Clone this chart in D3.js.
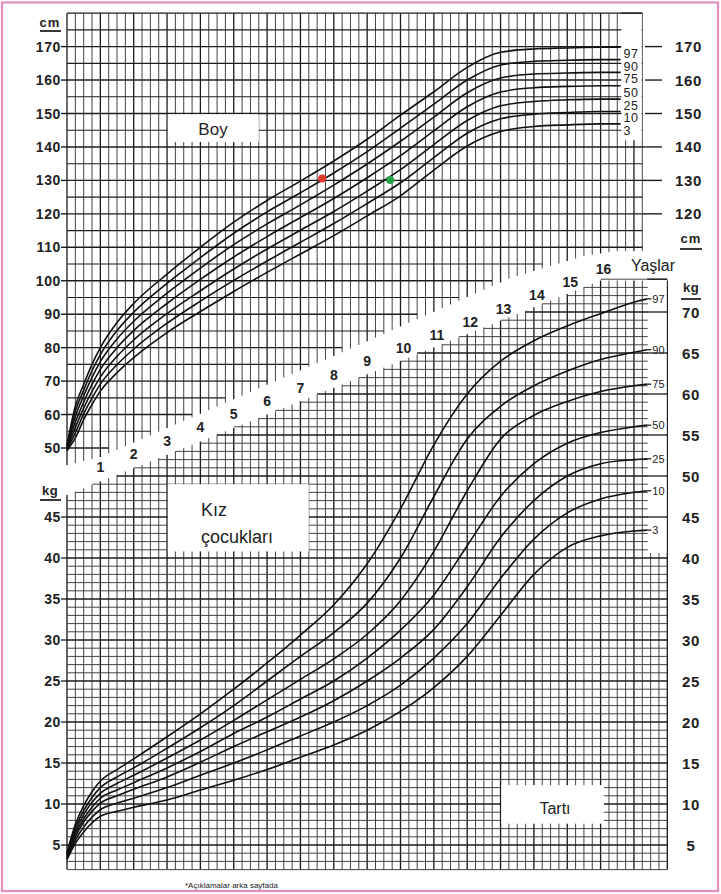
<!DOCTYPE html>
<html><head><meta charset="utf-8">
<script src="https://cdn.jsdelivr.net/npm/d3@7"></script>
<style>
html,body{margin:0;padding:0;background:#fff;}
svg{display:block;}
text{font-family:"Liberation Sans",Arial,sans-serif;fill:#222;}
</style></head><body>
<svg id="c" width="721" height="894"></svg>
<script>
// ---------------- DATA ----------------
const percentiles = ["3","10","25","50","75","90","97"];

// Height (Boy), cm
const heightAges = [0,0.25,0.5,0.75,1,1.5,2,3,4,5,6,7,8,9,10,11,12,13,14,15,16,16.6];
const heightP3  = [49.2,53,58.5,63,67,72.5,77,84.5,90.8,96.8,102.5,108,113.5,119.4,125.4,133.1,140.3,144.6,146.1,146.6,146.9,146.9];
const heightP10 = [49.5,54.5,60.2,64.9,69.1,74.9,79.6,87.3,93.9,100.1,105.9,111.5,117.1,123.1,129.3,136.8,144.1,148.4,149.8,150.3,150.6,150.6];
const heightP25 = [49.8,56.1,61.9,66.9,71.2,77.4,82.3,90.2,97.0,103.5,109.5,115.1,120.7,126.8,133.2,140.7,147.9,152.3,153.6,154.1,154.3,154.3];
const heightP50 = [50.1,57.7,63.7,69.0,73.5,80.0,85.1,93.2,100.4,107.1,113.2,118.9,124.6,130.8,137.4,144.8,152.0,156.4,157.7,158.1,158.3,158.3];
const heightP75 = [50.4,59.4,65.6,71.1,75.8,82.6,87.9,96.3,103.8,110.8,117.0,122.7,128.6,134.9,141.7,148.9,156.2,160.6,161.8,162.1,162.3,162.3];
const heightP90 = [50.7,61.0,67.3,73.1,77.9,85.1,90.6,99.2,106.9,114.2,120.6,126.3,132.2,138.6,145.6,152.8,160.0,164.5,165.6,165.9,166.1,166.1];
const heightP97 = [51.0,62.5,69,75,80,87.5,93.2,102,110,117.5,124,129.8,135.8,142.3,149.5,156.5,163.8,168.3,169.3,169.6,169.8,169.8];

// Weight (Tartı), kg
const weightAges = [0,0.25,0.5,0.75,1,1.5,2,3,4,5,6,7,8,9,10,11,12,13,14,15,16,17,17.4];
const weightP3  = [3.2,5.2,6.6,7.7,8.5,9.1,9.6,10.5,11.7,12.9,14.2,15.7,17.2,19.0,21.3,24.2,28.0,33.0,38.0,41.3,42.7,43.3,43.4];
const weightP10 = [3.35,5.6,7.2,8.4,9.3,10.1,10.7,12.0,13.5,15.0,16.6,18.3,20.0,22.0,24.5,27.8,32.0,37.5,42.3,45.5,47.2,48.0,48.2];
const weightP25 = [3.5,6.0,7.8,9.1,10.1,11.0,11.8,13.3,15.1,17.0,18.8,20.6,22.6,25.0,27.8,31.3,36.5,42.5,47.0,50.0,51.5,52.0,52.1];
const weightP50 = [3.65,6.4,8.2,9.6,10.7,11.7,12.6,14.4,16.4,18.6,20.6,22.8,25.0,27.8,31.2,35.5,41.5,47.5,51.5,54.0,55.3,56.0,56.2];
const weightP75 = [3.8,6.7,8.7,10.2,11.3,12.5,13.5,15.6,17.8,20.2,22.7,25.2,27.7,30.7,34.8,40.8,48.2,54.5,57.4,59.1,60.3,61.0,61.2];
const weightP90 = [3.95,7.1,9.2,10.8,12.0,13.3,14.4,16.8,19.3,22.0,25.0,28.0,30.9,34.5,40.0,47.5,54.5,58.5,61.0,62.8,64.2,65.1,65.4];
const weightP97 = [4.1,7.5,9.8,11.5,12.8,14.2,15.5,18.2,21.0,24.0,27.2,30.6,34.3,39.3,46.0,53.8,60.0,64.0,66.5,68.3,69.8,71.2,71.6];

// Axis ticks / labels
const heightTicksLeft  = [50,60,70,80,90,100,110,120,130,140,150,160,170];
const heightTicksRight = [120,130,140,150,160,170];
const weightTicksLeft  = [5,10,15,20,25,30,35,40,45];
const weightTicksRight = [5,10,15,20,25,30,35,40,45,50,55,60,65,70];
const ageLabels = [1,2,3,4,5,6,7,8,9,10,11,12,13,14,15,16];

// Plotted children (height)
const childAges    = [7.65, 9.69];
const childHeights = [130.6, 130.1];
const childColors  = ["#e2372c", "#27a348"];

// ---------------- LAYOUT ----------------
const svg = d3.select("#c");
const x  = d3.scaleLinear().domain([0, 18]).range([67, 667.3]);
const yH = d3.scaleLinear().domain([50, 180]).range([448, 13.15]);
const yW = d3.scaleLinear().domain([5, 74]).range([845, 279.2]);
const bandY = d3.scaleLinear().domain([0, 16]).range([480.2, 269]); // centre line of age band

// torn edges of the two grids along the diagonal age band (pixel y by age)
const hEdge = d3.scaleLinear().domain([0, 1, 8.2, 13.3, 15.5, 16.5, 18]).range([465, 457, 353, 278, 256, 251, 251]).clamp(true);
const wEdge = d3.scaleLinear().domain([0, 16, 18]).range([495, 280.5, 280.5]).clamp(true);

const gridMinor = "#3a3a3a", gridMajor = "#1c1c1c";

// pink frame
svg.append("rect").attr("x",2).attr("y",2.5).attr("width",716).attr("height",888.5)
  .attr("fill","none").attr("stroke","#e58cc2").attr("stroke-width",2.2);

// ---------- HEIGHT GRID ----------
const gH = svg.append("g");
const hMaxQ = 69; // quarter-year columns (0 .. 17.25 y)
for (let q = 0; q <= hMaxQ; q++) {
  gH.append("line").attr("x1", x(q/4)).attr("x2", x(q/4))
    .attr("y1", yH(180)).attr("y2", hEdge(q/4))
    .attr("stroke", q % 4 === 0 ? gridMajor : gridMinor)
    .attr("stroke-width", q % 4 === 0 ? 1.3 : 0.95);
}
for (let v = 50; v <= 180; v += 5) {
  const yy = yH(v);
  let qmax = -1;
  for (let q = 0; q <= hMaxQ; q++) { if (hEdge(q/4) >= yy + 2) qmax = q; else break; }
  if (qmax < 1) continue;
  gH.append("line").attr("x1", x(0)).attr("x2", x(qmax/4)).attr("y1", yy).attr("y2", yy)
    .attr("stroke", gridMajor).attr("stroke-width", v % 10 === 0 ? 1.4 : 1.1);
}

// ---------- WEIGHT GRID ----------
const gW = svg.append("g");
const wMaxQ = 72; // 0 .. 18 y
for (let q = 0; q <= wMaxQ; q++) {
  gW.append("line").attr("x1", x(q/4)).attr("x2", x(q/4))
    .attr("y1", wEdge(q/4)).attr("y2", yW(2))
    .attr("stroke", q % 4 === 0 ? gridMajor : gridMinor)
    .attr("stroke-width", q % 4 === 0 ? 1.35 : 0.95);
}
for (let v = 2; v <= 74; v++) {
  const yy = yW(v);
  let qmin = -1;
  for (let q = 0; q <= wMaxQ; q++) { if (wEdge(q/4) <= yy + 1.5) { qmin = q; break; } }
  if (qmin < 0 || qmin >= wMaxQ) continue;
  gW.append("line").attr("x1", x(qmin/4)).attr("x2", x(18)).attr("y1", yy).attr("y2", yy)
    .attr("stroke", v % 5 === 0 ? gridMajor : gridMinor)
    .attr("stroke-width", v % 5 === 0 ? 1.3 : 0.95);
}

// ---------- WHITE BOXES / LABEL COLUMNS ----------
const white = (x0, y0, x1, y1) => svg.append("rect").attr("x", x0).attr("y", y0)
  .attr("width", x1 - x0).attr("height", y1 - y0).attr("fill", "#fff");
white(x(3) + 0.8, yH(150) + 0.8, x(5.75), yH(141.5));        // Boy
white(x(3) + 0.8, yW(49), x(7.25), yW(40.8));                // Kız çocukları
white(x(13) + 0.8, yW(12.3), x(16.1), yW(7.6));              // Tartı
white(x(16.6) + 0.8, yH(180) + 0.8, x(17.25) - 0.7, yH(142)); // height pct labels
white(x(17.4) + 0.5, yW(74) + 0.8, x(18) - 0.7, yW(40.6));     // weight pct labels

// restore borders over label columns
svg.append("line").attr("x1", x(16.6)).attr("x2", x(17.25)).attr("y1", yH(180)).attr("y2", yH(180))
  .attr("stroke", gridMajor).attr("stroke-width", 1.3);
weightTicksRight.filter(v => v >= 45).forEach(v => {
  svg.append("line").attr("x1", x(17.4)).attr("x2", x(18)).attr("y1", yW(v)).attr("y2", yW(v))
    .attr("stroke", gridMajor).attr("stroke-width", 1.3);
});
svg.append("line").attr("x1", x(17.4)).attr("x2", x(18)).attr("y1", yW(74)).attr("y2", yW(74))
  .attr("stroke", gridMajor).attr("stroke-width", 1.3);

// ---------- AXES ----------
const bold = "bold";
heightTicksLeft.forEach(v => {
  svg.append("line").attr("x1", 61).attr("x2", x(0)).attr("y1", yH(v)).attr("y2", yH(v))
    .attr("stroke", gridMajor).attr("stroke-width", 1.4);
  svg.append("text").attr("x", 61).attr("y", yH(v) + 5).attr("text-anchor", "end")
    .attr("font-size", 14).attr("font-weight", bold).attr("letter-spacing", 0.6).text(v);
});
svg.append("text").attr("x", 50).attr("y", 27).attr("text-anchor", "middle")
  .attr("font-size", 13).attr("font-weight", bold).attr("letter-spacing", 1).text("cm");
svg.append("line").attr("x1", 40).attr("x2", 61).attr("y1", 31).attr("y2", 31).attr("stroke", "#222").attr("stroke-width", 1.8);

heightTicksRight.forEach(v => {
  svg.append("line").attr("x1", v >= 150 ? 645 : x(17.25)).attr("x2", 662).attr("y1", yH(v)).attr("y2", yH(v))
    .attr("stroke", gridMajor).attr("stroke-width", 1.4);
  svg.append("text").attr("x", 675).attr("y", yH(v) + 5.5)
    .attr("font-size", 15).attr("font-weight", bold).attr("letter-spacing", 0.6).text(v);
});
svg.append("text").attr("x", 691).attr("y", 243).attr("text-anchor", "middle")
  .attr("font-size", 13).attr("font-weight", bold).attr("letter-spacing", 1).text("cm");
svg.append("line").attr("x1", 680).attr("x2", 702).attr("y1", 249).attr("y2", 249).attr("stroke", "#222").attr("stroke-width", 1.8);

weightTicksLeft.forEach(v => {
  svg.append("line").attr("x1", 61).attr("x2", x(0)).attr("y1", yW(v)).attr("y2", yW(v))
    .attr("stroke", gridMajor).attr("stroke-width", 1.3);
  svg.append("text").attr("x", 61).attr("y", yW(v) + 5).attr("text-anchor", "end")
    .attr("font-size", 14).attr("font-weight", bold).attr("letter-spacing", 0.6).text(v);
});
svg.append("text").attr("x", 50).attr("y", 495).attr("text-anchor", "middle")
  .attr("font-size", 13).attr("font-weight", bold).attr("letter-spacing", 0.5).text("kg");
svg.append("line").attr("x1", 40).attr("x2", 61).attr("y1", 500).attr("y2", 500).attr("stroke", "#222").attr("stroke-width", 1.8);

weightTicksRight.forEach(v => {
  svg.append("text").attr("x", 691).attr("y", yW(v) + 5.5).attr("text-anchor", "middle")
    .attr("font-size", 15).attr("font-weight", bold).attr("letter-spacing", 0.6).text(v);
});
svg.append("text").attr("x", 691).attr("y", 292).attr("text-anchor", "middle")
  .attr("font-size", 13).attr("font-weight", bold).attr("letter-spacing", 0.5).text("kg");
svg.append("line").attr("x1", 681).attr("x2", 701).attr("y1", 299).attr("y2", 299).attr("stroke", "#222").attr("stroke-width", 1.8);

ageLabels.forEach(a => {
  svg.append("text").attr("x", x(a) + (a >= 10 ? 3 : 0)).attr("y", bandY(a) + 5)
    .attr("text-anchor", "middle").attr("font-size", 14).attr("font-weight", bold).text(a);
});
svg.append("text").attr("x", 653).attr("y", 271).attr("text-anchor", "middle")
  .attr("font-size", 16).attr("fill", "#333").text("Yaşlar");

// ---------- CURVES ----------
const heightSeries = [heightP3, heightP10, heightP25, heightP50, heightP75, heightP90, heightP97];
const weightSeries = [weightP3, weightP10, weightP25, weightP50, weightP75, weightP90, weightP97];

const lineH = d3.line().x((d, i) => x(heightAges[i])).y(d => yH(d)).curve(d3.curveMonotoneX);
const lineW = d3.line().x((d, i) => x(weightAges[i])).y(d => yW(d)).curve(d3.curveMonotoneX);

heightSeries.forEach((s, i) => {
  svg.append("path").attr("d", lineH(s)).attr("fill", "none")
    .attr("stroke", "#111").attr("stroke-width", 1.6);
  svg.append("text").attr("x", x(16.6) + 3).attr("y", yH(s[s.length - 1]) + 11)
    .attr("font-size", 12.5).attr("letter-spacing", 0.5).text(percentiles[i]);
});
weightSeries.forEach((s, i) => {
  svg.append("path").attr("d", lineW(s)).attr("fill", "none")
    .attr("stroke", "#111").attr("stroke-width", 1.6);
  const ly = yW(s[s.length - 1]);
  svg.append("line").attr("x1", x(17.4)).attr("x2", x(17.4) + 4).attr("y1", ly).attr("y2", ly)
    .attr("stroke", "#111").attr("stroke-width", 1.2);
  svg.append("text").attr("x", x(17.4) + 5).attr("y", ly + 4)
    .attr("font-size", 11).attr("fill", "#333").text(percentiles[i]);
});

// ---------- BOX TEXTS ----------
svg.append("text").attr("x", 213).attr("y", 135).attr("text-anchor", "middle")
  .attr("font-size", 17).attr("fill", "#333").text("Boy");
svg.append("text").attr("x", 201).attr("y", 516).attr("font-size", 18).attr("fill", "#333").text("Kız");
svg.append("text").attr("x", 201).attr("y", 543).attr("font-size", 18).attr("fill", "#333").text("çocukları");
svg.append("text").attr("x", 555).attr("y", 814).attr("text-anchor", "middle")
  .attr("font-size", 16).attr("fill", "#333").text("Tartı");

childAges.forEach((a, i) => {
  svg.append("circle").attr("cx", x(a)).attr("cy", yH(childHeights[i])).attr("r", 4)
    .attr("fill", childColors[i]);
});

svg.append("text").attr("x", 185).attr("y", 888).attr("font-size", 8).attr("fill", "#555")
  .text("*Açıklamalar arka sayfada");
</script>
</body></html>
